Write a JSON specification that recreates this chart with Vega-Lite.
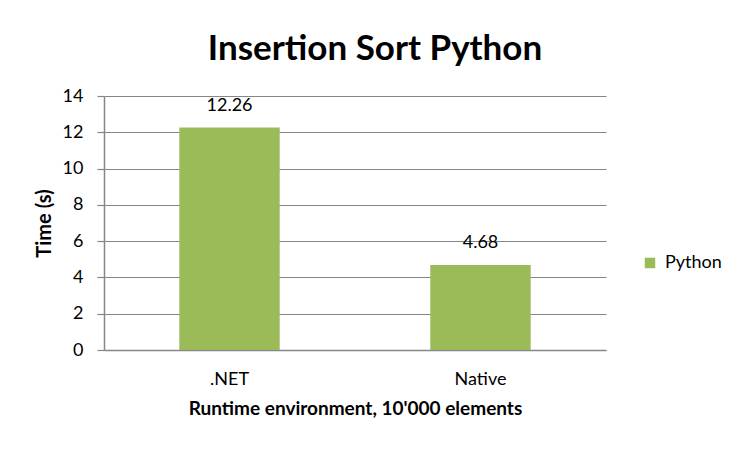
{
  "$schema": "https://vega.github.io/schema/vega-lite/v6.json",
  "width": 502,
  "height": 254,
  "autosize": "none",
  "padding": {"left": 104, "top": 96, "right": 147, "bottom": 102},
  "background": "white",
  "title": {
    "text": "Insertion Sort Python",
    "font": "Lato",
    "fontSize": 35,
    "fontWeight": "bold",
    "color": "black",
    "anchor": "middle",
    "frame": "group",
    "dx": 20,
    "offset": 20
  },
  "data": {
    "values": [
      {"env": ".NET", "time": 12.26, "series": "Python"},
      {"env": "Native", "time": 4.68, "series": "Python"}
    ]
  },
  "encoding": {
    "x": {
      "field": "env",
      "type": "nominal",
      "sort": null,
      "scale": {"paddingInner": 0.6, "paddingOuter": 0.3},
      "axis": {
        "title": "Runtime environment, 10'000 elements",
        "titleFont": "Lato",
        "titleFontSize": 19,
        "titleFontWeight": "bold",
        "titleColor": "black",
        "titlePadding": 11,
        "labelFont": "Lato",
        "labelFontSize": 18,
        "labelColor": "black",
        "labelAngle": 0,
        "labelPadding": 20,
        "ticks": false,
        "domainColor": "#868686",
        "domainWidth": 1.5
      }
    },
    "y": {
      "field": "time",
      "type": "quantitative",
      "scale": {"domain": [0, 14]},
      "axis": {
        "title": "Time (s)",
        "titleFont": "Lato",
        "titleFontSize": 20,
        "titleFontWeight": "bold",
        "titleColor": "black",
        "titlePadding": 8,
        "values": [0, 2, 4, 6, 8, 10, 12, 14],
        "labelFont": "Lato",
        "labelFontSize": 18,
        "labelColor": "black",
        "labelPadding": 14,
        "tickSize": 7,
        "tickColor": "#868686",
        "tickWidth": 1.2,
        "domainColor": "#868686",
        "domainWidth": 1.5,
        "grid": true,
        "gridColor": "#868686",
        "gridWidth": 1.2
      }
    }
  },
  "layer": [
    {
      "mark": {"type": "bar"},
      "encoding": {
        "color": {
          "field": "series",
          "type": "nominal",
          "scale": {"range": ["#9BBB59"]},
          "legend": {
            "title": null,
            "orient": "none",
            "legendX": 537,
            "legendY": 158,
            "symbolType": "square",
            "symbolSize": 110,
            "symbolStrokeWidth": 0,
            "labelFont": "Lato",
            "labelFontSize": 18,
            "labelColor": "black",
            "labelOffset": 6
          }
        }
      }
    },
    {
      "mark": {"type": "text", "dy": -22, "font": "Lato", "fontSize": 18, "color": "black"},
      "encoding": {
        "text": {"field": "time", "type": "quantitative", "format": ".2f"}
      }
    }
  ],
  "config": {
    "view": {"stroke": null}
  }
}
